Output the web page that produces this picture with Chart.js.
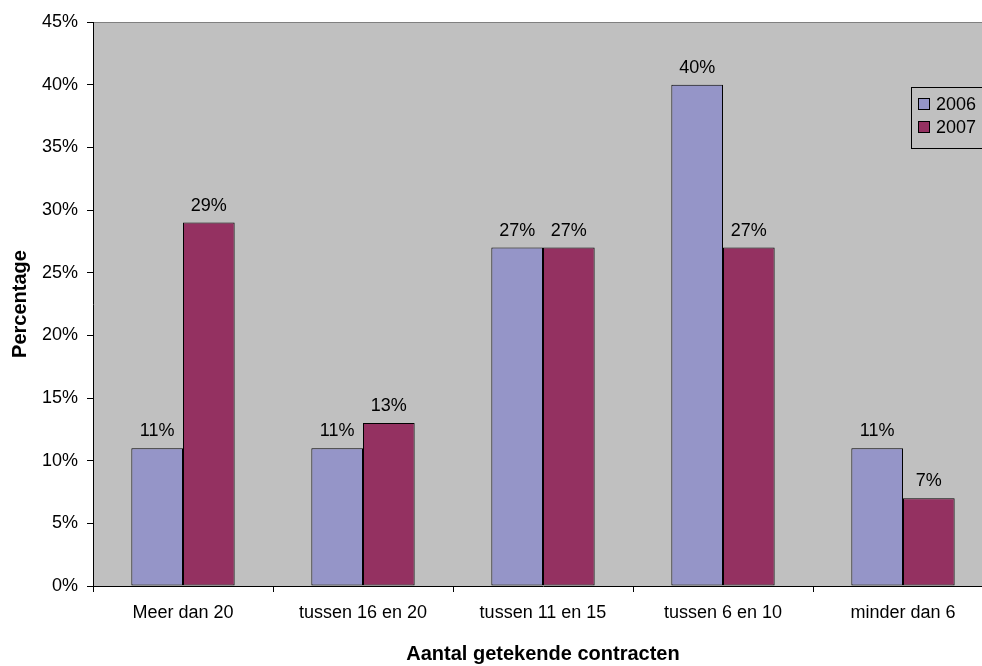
<!DOCTYPE html>
<html>
<head>
<meta charset="utf-8">
<script src="https://cdn.jsdelivr.net/npm/chart.js@4/dist/chart.umd.min.js"></script>
<style>
  html, body { margin: 0; padding: 0; background: #fff; overflow: hidden; }
  #wrap { width: 982px; height: 666px; overflow: hidden; }
  canvas { display: block; }
</style>
</head>
<body>
<div id="wrap"><canvas id="c" width="1000" height="666"></canvas></div>
<script>
// Categories and series
const categories = ['Meer dan 20', 'tussen 16 en 20', 'tussen 11 en 15', 'tussen 6 en 10', 'minder dan 6'];
const seriesNames = ['2006', '2007'];
const values2006 = [11, 11, 27, 40, 11];
const values2007 = [29, 13, 27, 27, 7];
const yTicks = [0, 5, 10, 15, 20, 25, 30, 35, 40, 45];

const colors = ['#9595C8', '#943161'];
const FONT = 'Liberation Sans, Arial, sans-serif';

// Grey plot background with a thin grey frame
const plotBackground = {
  id: 'plotBackground',
  beforeDraw(chart) {
    const { ctx, chartArea: a } = chart;
    ctx.save();
    ctx.fillStyle = '#C0C0C0';
    ctx.fillRect(a.left, a.top, a.right - a.left, a.bottom - a.top);
    ctx.strokeStyle = '#808080';
    ctx.lineWidth = 1;
    ctx.beginPath();
    ctx.moveTo(a.left, a.top + 0.5);
    ctx.lineTo(a.right, a.top + 0.5);
    ctx.moveTo(a.right - 0.5, a.top);
    ctx.lineTo(a.right - 0.5, a.bottom);
    ctx.stroke();
    ctx.restore();
  }
};

// Percentage labels above each bar
const valueLabels = {
  id: 'valueLabels',
  afterDatasetsDraw(chart) {
    const { ctx } = chart;
    ctx.save();
    ctx.font = '18px ' + FONT;
    ctx.fillStyle = '#000';
    ctx.textAlign = 'center';
    ctx.textBaseline = 'alphabetic';
    chart.data.datasets.forEach((ds, i) => {
      chart.getDatasetMeta(i).data.forEach((bar, j) => {
        ctx.fillText(ds.data[j] + '%', bar.x, bar.y - 12);
      });
    });
    ctx.restore();
  }
};

// Boxed legend on the right side of the plot
const boxLegend = {
  id: 'boxLegend',
  afterDraw(chart) {
    const { ctx } = chart;
    const x = 911, y = 87, w = 120, h = 61;
    ctx.save();
    ctx.fillStyle = '#C0C0C0';
    ctx.fillRect(x, y, w, h);
    ctx.strokeStyle = '#000';
    ctx.lineWidth = 1;
    ctx.strokeRect(x + 0.5, y + 0.5, w, h);
    ctx.font = '18px ' + FONT;
    ctx.textBaseline = 'middle';
    ctx.textAlign = 'left';
    chart.data.datasets.forEach((ds, i) => {
      const cy = y + 17 + i * 23;
      ctx.fillStyle = ds.backgroundColor;
      ctx.fillRect(x + 7, cy - 6, 12, 12);
      ctx.strokeRect(x + 7.5, cy - 5.5, 11, 11);
      ctx.fillStyle = '#000';
      ctx.fillText(ds.label, x + 25, cy + 1);
    });
    ctx.restore();
  }
};

new Chart(document.getElementById('c'), {
  type: 'bar',
  data: {
    labels: categories,
    datasets: [
      { label: seriesNames[0], data: values2006, backgroundColor: colors[0] },
      { label: seriesNames[1], data: values2007, backgroundColor: colors[1] }
    ]
  },
  options: {
    responsive: false,
    animation: false,
    devicePixelRatio: 1,
    layout: { padding: { top: 22, right: 7, left: 0, bottom: 0 } },
    datasets: {
      bar: {
        categoryPercentage: 0.574,
        barPercentage: 1.0,
        borderColor: '#000',
        borderWidth: 1,
        borderSkipped: false
      }
    },
    plugins: {
      legend: { display: false },
      tooltip: { enabled: false }
    },
    scales: {
      x: {
        offset: true,
        grid: { offset: true, drawOnChartArea: false, drawTicks: true, tickLength: 6, color: '#000' },
        border: { display: true, color: '#000', width: 1 },
        ticks: { color: '#000', font: { family: FONT, size: 18 }, padding: 10, maxRotation: 0 },
        title: {
          display: true,
          text: 'Aantal getekende contracten',
          color: '#000',
          font: { family: FONT, size: 20, weight: 'bold' },
          padding: { top: 0, bottom: 0 }
        },
        afterFit(scale) { scale.height = 80; }
      },
      y: {
        min: 0,
        max: 45,
        afterBuildTicks(scale) { scale.ticks = yTicks.map(v => ({ value: v })); },
        grid: { drawOnChartArea: false, drawTicks: true, tickLength: 6, color: '#000' },
        border: { display: true, color: '#000', width: 1 },
        ticks: {
          color: '#000',
          font: { family: FONT, size: 18 },
          padding: 9,
          callback: v => v + '%'
        },
        title: {
          display: true,
          text: 'Percentage',
          color: '#000',
          font: { family: FONT, size: 20, weight: 'bold' },
          padding: { top: 8, bottom: 0 }
        },
        afterFit(scale) { scale.width = 93; }
      }
    }
  },
  plugins: [plotBackground, valueLabels, boxLegend]
});
</script>
</body>
</html>
